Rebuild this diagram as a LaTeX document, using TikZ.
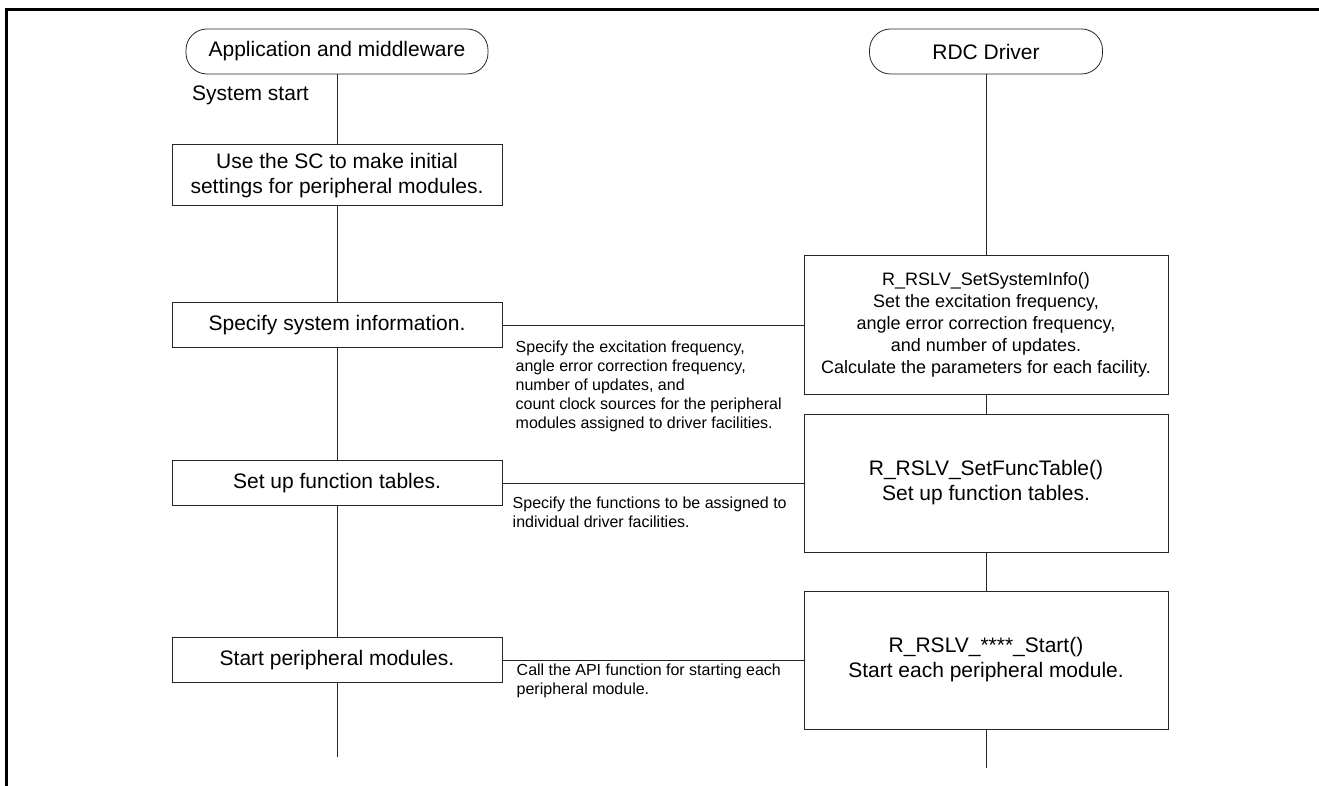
\documentclass[tikz,border=0pt]{standalone}
\usepackage{fontspec}
\setmainfont{Liberation Sans}
\usepackage{tikz}
\usetikzlibrary{calc,positioning}
\tikzset{
    block/.style = {draw=black!85, rectangle, line width=1pt,
        minimum height=45pt,
        minimum width=330pt, align=center},
    term/.style = {draw=black!85, rectangle, rounded corners=21pt, line width=0.8pt,
        minimum height=45pt, align=center},
    api/.style = {block, minimum width=364pt, minimum height=138pt},
    note/.style = {inner sep=0pt, align=left,
        font=\fontsize{16}{19}\selectfont},
    line/.style = {draw=black!85, line width=0.9pt}
}

\begin{document}
\begin{tikzpicture}[x=1pt, y=1pt, node distance=149pt, font=\fontsize{21}{25}\selectfont]
        \useasboundingbox (0,0) rectangle (1319,-786);
        \draw [line width=3pt] (6.5,-786) |- (1319,-10);
        \node [term, minimum width=302pt] (app) at (337,-51.5) {Application and middleware};
        \node [term, minimum width=233pt, right of=app, node distance=649pt] (rdc) {RDC Driver};
        \node [inner sep=0pt, below of=app, node distance=43.5pt, xshift=-86.5pt] (sysstart) {System start};
        \node [block, minimum height=61pt, below of=app, node distance=124pt] (init) {Use the SC to make initial\\settings for peripheral modules.};
        \draw [line] (app) -- (init);
        \node [block, below of=init, node distance=149.5pt] (info) {Specify system information.};
        \draw [line] (init) -- (info);
        \node [block, below of=info, node distance=158pt] (tbl) {Set up function tables.};
        \draw [line] (info) -- (tbl);
        \node [block, below of=tbl, node distance=177pt] (run) {Start peripheral modules.};
        \draw [line] (tbl) -- (run);
        \coordinate [below of=run, node distance=97pt] (aend);
        \draw [line] (run) -- (aend);
        \node [api, right of=info, node distance=649pt, font=\fontsize{18}{22}\selectfont] (sysinfo) {R\_RSLV\_SetSystemInfo()\\Set the excitation frequency,\\angle error correction frequency,\\and number of updates.\\Calculate the parameters for each facility.};
        \draw [line] (rdc) -- (sysinfo);
        \draw [line] (info) -- (sysinfo);
        \node [note, below right=16pt and 13pt of info.east] (n1) {Specify the excitation frequency,\\angle error correction frequency,\\number of updates, and\\count clock sources for the peripheral\\modules assigned to driver facilities.};
        \node [api, right of=tbl, node distance=649pt] (functbl) {R\_RSLV\_SetFuncTable()\\Set up function tables.};
        \draw [line] (sysinfo) -- (functbl);
        \draw [line] (tbl) -- (functbl);
        \node [note, below right=14pt and 10pt of tbl.east] (n2) {Specify the functions to be assigned to\\individual driver facilities.};
        \node [api, right of=run, node distance=649pt] (startfn) {R\_RSLV\_****\_Start()\\Start each peripheral module.};
        \draw [line] (functbl) -- (startfn);
        \draw [line] (run) -- (startfn);
        \node [note, below right=4pt and 14pt of run.east] (n3) {Call the API function for starting each\\peripheral module.};
        \coordinate [below of=startfn, node distance=108pt] (rend);
        \draw [line] (startfn) -- (rend);
\end{tikzpicture}
\end{document}
